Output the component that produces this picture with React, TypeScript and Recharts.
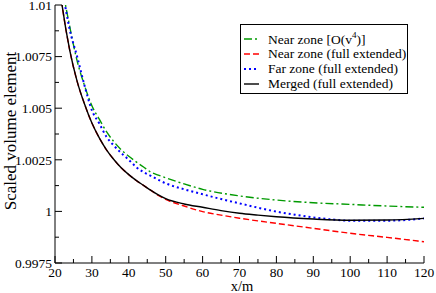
import { LineChart, Line, XAxis, YAxis } from "recharts";

// major / minor ticks
const xMajor = [20, 30, 40, 50, 60, 70, 80, 90, 100, 110, 120];
const xMinor = [25, 35, 45, 55, 65, 75, 85, 95, 105, 115];
const yMajor = [0.9975, 1, 1.0025, 1.005, 1.0075, 1.01];
const yMajorLabels = ["0.9975", "1", "1.0025", "1.005", "1.0075", "1.01"];
const yMinor = [0.99875, 1.00125, 1.00375, 1.00625, 1.00875];

// Near zone [O(v^4)]
const greenX = [20, 22, 24, 26, 28, 30, 32, 34, 36, 38, 40, 42, 44, 46, 48, 50, 55, 60, 70, 80, 90, 100, 110, 120];
const greenY = [1.0136, 1.0109, 1.00895, 1.00729, 1.0061, 1.00512, 1.00447, 1.00385, 1.00337, 1.00298, 1.00267, 1.0024, 1.00215, 1.0019, 1.00176, 1.00163, 1.00133, 1.00107, 1.00075, 1.00055, 1.00042, 1.00034, 1.00026, 1.0002];

// Near zone (full extended)
const redX = [20, 22, 24, 26, 28, 30, 32, 34, 36, 38, 40, 42, 44, 46, 48, 50, 55, 60, 65, 70, 75, 80, 90, 100, 110, 120];
const redY = [1.0128, 1.0099, 1.0078, 1.0063, 1.0052, 1.00428, 1.00356, 1.00297, 1.0025, 1.0021, 1.00178, 1.0015, 1.00126, 1.00102, 1.00077, 1.00058, 1.00026, 0.99999, 0.99982, 0.99967, 0.99954, 0.99942, 0.99918, 0.99894, 0.99874, 0.99853];

// Far zone (full extended)
const blueX = [20, 22, 24, 26, 28, 30, 32, 34, 36, 38, 40, 42, 44, 46, 48, 50, 55, 60, 65, 70, 75, 80, 85, 90, 95, 100, 110, 120];
const blueY = [1.0135, 1.0108, 1.0088, 1.0075, 1.0061, 1.0049, 1.00426, 1.0036, 1.00318, 1.00282, 1.0025, 1.00215, 1.0019, 1.00172, 1.00153, 1.00136, 1.00107, 1.00083, 1.0006, 1.00039, 1.00018, 0.99999, 0.99984, 0.99971, 0.99961, 0.99955, 0.99955, 0.99966];

// Merged (full extended)
const blackX = [20, 22, 24, 26, 28, 30, 32, 34, 36, 38, 40, 42, 44, 46, 48, 50, 55, 60, 65, 70, 75, 80, 90, 100, 110, 120];
const blackY = [1.0128, 1.0099, 1.0078, 1.0063, 1.0052, 1.00428, 1.00356, 1.00297, 1.0025, 1.0021, 1.00178, 1.0015, 1.00126, 1.00102, 1.0008, 1.00062, 1.00036, 1.0002, 1.00004, 0.99991, 0.99982, 0.99974, 0.99963, 0.99957, 0.99958, 0.99966];

const zip = (xs: number[], ys: number[]) => xs.map((x, i) => ({ x, y: ys[i] }));

const FONT = "Liberation Serif, Tinos, Times New Roman, Times, DejaVu Serif, serif";
const GREEN = "#009a00";
const RED = "#ff0000";
const BLUE = "#0000ff";

type Side = "bottom" | "top" | "left" | "right";

function makeTick(side: Side, majors: number[], labels?: string[]) {
  return (props: any) => {
    const { x, y, payload } = props;
    const v = payload.value;
    const idx = majors.findIndex((m) => Math.abs(m - v) < 1e-9);
    const len = idx >= 0 ? 7 : 4;
    const label = idx >= 0 && labels ? labels[idx] : null;
    let line;
    if (side === "bottom") line = <line x1={x} y1={y} x2={x} y2={y - len} />;
    else if (side === "top") line = <line x1={x} y1={y} x2={x} y2={y + len} />;
    else if (side === "left") line = <line x1={x} y1={y} x2={x + len} y2={y} />;
    else line = <line x1={x} y1={y} x2={x - len} y2={y} />;
    return (
      <g stroke="#000" strokeWidth={1}>
        {line}
        {label && side === "bottom" && (
          <text x={x} y={y + 14} textAnchor="middle" stroke="none" fill="#000" fontSize={13.5} style={{ fontFamily: FONT }}>
            {label}
          </text>
        )}
        {label && side === "left" && (
          <text x={x - 3} y={y} dy="0.35em" textAnchor="end" stroke="none" fill="#000" fontSize={13.5} style={{ fontFamily: FONT }}>
            {label}
          </text>
        )}
      </g>
    );
  };
}

const xTicks = [...xMajor, ...xMinor].sort((a, b) => a - b);
const yTicks = [...yMajor, ...yMinor].sort((a, b) => a - b);
const xLabels = xMajor.map(String);

function LegendRow({ color, dash, width, children }: any) {
  return (
    <div style={{ display: "flex", alignItems: "center", height: 15 }}>
      <svg width={24} height={15} style={{ flexShrink: 0 }}>
        <line x1={3} y1={8} x2={18} y2={8} stroke={color} strokeWidth={width} strokeDasharray={dash} />
      </svg>
      <span style={{ marginLeft: 3, whiteSpace: "nowrap" }}>{children}</span>
    </div>
  );
}

export default function App() {
  return (
    <div style={{ position: "relative", width: 436, height: 293, background: "#fff", fontFamily: FONT }}>
      <style>{`body{margin:0}`}</style>
      <LineChart width={436} height={293} margin={{ top: 5, right: 12, bottom: 0, left: 0 }}>
        <XAxis
          type="number"
          dataKey="x"
          domain={[20, 120]}
          ticks={xTicks}
          interval={0}
          height={30}
          tickSize={0}
          tickMargin={0}
          tickLine={false}
          axisLine={{ stroke: "#000" }}
          tick={makeTick("bottom", xMajor, xLabels)}
          allowDataOverflow
        />
        <XAxis
          xAxisId="t"
          orientation="top"
          type="number"
          dataKey="x"
          domain={[20, 120]}
          ticks={xTicks}
          interval={0}
          height={0}
          tickSize={0}
          tickMargin={0}
          tickLine={false}
          axisLine={{ stroke: "#000" }}
          tick={makeTick("top", xMajor)}
          allowDataOverflow
        />
        <YAxis
          type="number"
          domain={[0.9975, 1.01]}
          ticks={yTicks}
          interval={0}
          width={55}
          tickSize={0}
          tickMargin={0}
          tickLine={false}
          axisLine={{ stroke: "#000" }}
          tick={makeTick("left", yMajor, yMajorLabels)}
          allowDataOverflow
        />
        <YAxis
          yAxisId="r"
          orientation="right"
          type="number"
          domain={[0.9975, 1.01]}
          ticks={yTicks}
          interval={0}
          width={0}
          tickSize={0}
          tickMargin={0}
          tickLine={false}
          axisLine={{ stroke: "#000" }}
          tick={makeTick("right", yMajor)}
          allowDataOverflow
        />
        <Line data={zip(greenX, greenY)} dataKey="y" type="monotone" stroke={GREEN} strokeWidth={1.4} strokeDasharray="8 3 2 3" dot={false} isAnimationActive={false} />
        <Line data={zip(redX, redY)} dataKey="y" type="monotone" stroke={RED} strokeWidth={1.4} strokeDasharray="6 3" dot={false} isAnimationActive={false} />
        <Line data={zip(blueX, blueY)} dataKey="y" type="monotone" stroke={BLUE} strokeWidth={2} strokeDasharray="2 3" dot={false} isAnimationActive={false} />
        <Line data={zip(blackX, blackY)} dataKey="y" type="monotone" stroke="#000" strokeWidth={1.4} dot={false} isAnimationActive={false} />
      </LineChart>

      <div
        style={{
          position: "absolute",
          left: 11,
          top: 131,
          transform: "translate(-50%, -50%) rotate(-90deg)",
          fontSize: 17,
          whiteSpace: "nowrap",
        }}
      >
        Scaled volume element
      </div>
      <div
        style={{
          position: "absolute",
          left: 242,
          top: 286,
          transform: "translate(-50%, -50%)",
          fontSize: 14.5,
          lineHeight: "14px",
          whiteSpace: "nowrap",
        }}
      >
        x/m
      </div>

      <div
        style={{
          position: "absolute",
          left: 240,
          top: 24,
          width: 168,
          height: 70,
          border: "1px solid #000",
          background: "#fff",
          fontSize: 13.5,
          paddingTop: 6,
          boxSizing: "border-box",
        }}
      >
        <LegendRow color={GREEN} dash="8 3 2 3" width={1.4}>
          Near zone [O(v<sup style={{ fontSize: 9 }}>4</sup>)]
        </LegendRow>
        <LegendRow color={RED} dash="6 3" width={1.4}>Near zone (full extended)</LegendRow>
        <LegendRow color={BLUE} dash="2 3" width={2}>Far zone (full extended)</LegendRow>
        <LegendRow color="#000" width={1.4}>Merged (full extended)</LegendRow>
      </div>
    </div>
  );
}
